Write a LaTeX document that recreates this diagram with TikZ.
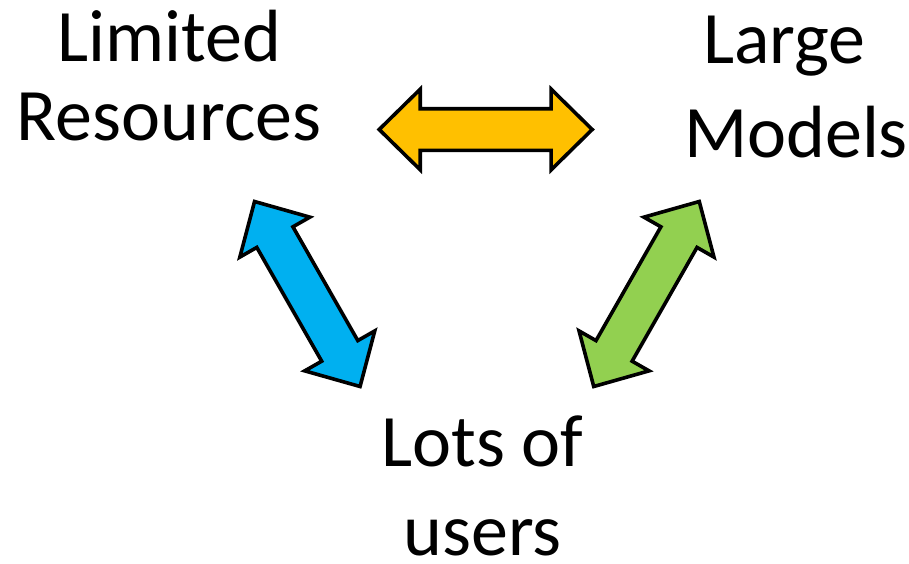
\documentclass[tikz,border=0pt]{standalone}
\usepackage{fontspec}
\setmainfont{Carlito}
\usetikzlibrary{shapes.arrows}

\definecolor{arrowgold}{HTML}{FFC000}
\definecolor{arrowblue}{HTML}{00B0F0}
\definecolor{arrowgreen}{HTML}{92D050}

\tikzset{
  label/.style={anchor=base, inner sep=0pt, font=\fontsize{74}{79}\selectfont},
  twoway/.style={draw=black, line width=3.6pt, line join=miter,
    double arrow, inner xsep=0pt, inner ysep=19pt, outer sep=0pt,
    minimum height=213pt,
    double arrow head extend=19.5pt, double arrow tip angle=89},
}

\begin{document}
\begin{tikzpicture}[x=1pt, y=-1pt]
  \useasboundingbox (0,0) rectangle (909,563);

  % labels, one line per node
  \node[label] (lim1) at (169,61)    {Limited};
  \node[label] (lim2) at (169,140)   {Resources};
  \node[label] (big1) at (784.5,63)  {Large};
  \node[label] (big2) at (796,157)   {Models};
  \node[label] (lot1) at (482.5,466) {Lots of};
  \node[label, text depth=0pt] (lot2) at (482.5,555) {users};

  % two-way arrows between the three labels
  \node[twoway, fill=arrowgold] (top)   at (485.7,129.5) {};
  \node[twoway, fill=arrowblue, rotate=-60.3] (left)  at (307.3,294) {};
  \node[twoway, fill=arrowgreen, rotate=60.3] (right) at (646.5,294) {};
\end{tikzpicture}
\end{document}
